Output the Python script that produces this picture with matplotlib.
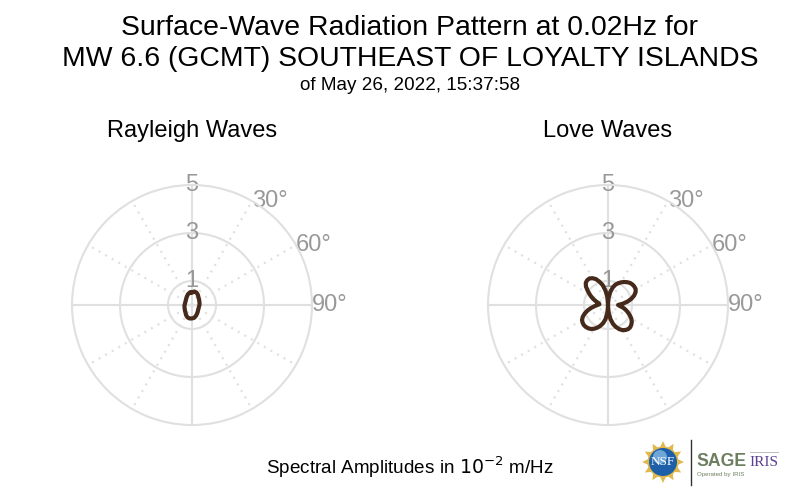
import numpy as np
import matplotlib
matplotlib.use("Agg")
import matplotlib.pyplot as plt
from matplotlib.patches import Circle, Polygon

plt.rcParams['font.family'] = ['Liberation Sans', 'DejaVu Sans']

title_lines = ["Surface-Wave Radiation Pattern at 0.02Hz for",
               "MW 6.6 (GCMT) SOUTHEAST OF LOYALTY ISLANDS"]
subtitle = "of May 26, 2022, 15:37:58"
panel_names = ["Rayleigh Waves", "Love Waves"]
radial_ticks = [1, 3, 5]
angle_labels = [30, 60, 90]
solid_angles = [0, 90, 180, 270]
dotted_angles = [30, 60, 120, 150, 210, 240, 300, 330]

rayleigh_theta = [0, 10, 20, 30, 40, 50, 60, 70, 80, 90, 100, 110, 120, 130, 140, 150, 160, 170, 180,
                  190, 200, 210, 220, 230, 240, 250, 260, 270, 280, 290, 300, 310, 320, 330, 340, 350, 360]
rayleigh_r = [0.53, 0.57, 0.55, 0.49, 0.42, 0.38, 0.35, 0.33, 0.32, 0.31, 0.30, 0.30, 0.31, 0.33, 0.37, 0.42, 0.48, 0.54, 0.56,
              0.57, 0.55, 0.49, 0.42, 0.38, 0.35, 0.33, 0.32, 0.31, 0.30, 0.30, 0.31, 0.33, 0.37, 0.42, 0.48, 0.53, 0.53]

love_theta = [0, 5, 10, 15, 20, 25, 30, 35, 40, 45, 50, 55, 60, 65, 70, 75, 80, 85, 90,
              95, 100, 105, 110, 115, 120, 125, 130, 135, 140, 145, 150, 155, 160, 165, 170, 175, 180,
              185, 190, 195, 200, 205, 210, 215, 220, 225, 230, 235, 240, 245, 250, 255, 260, 265, 270,
              275, 280, 285, 290, 295, 300, 305, 310, 315, 320, 325, 330, 335, 340, 345, 350, 355, 360]
love_r = [0.03, 0.30, 0.55, 0.75, 0.90, 1.00, 1.09, 1.17, 1.24, 1.30, 1.33, 1.34, 1.33, 1.27, 1.16, 1.01, 0.83, 0.62, 0.42,
          0.50, 0.64, 0.76, 0.88, 1.00, 1.12, 1.21, 1.27, 1.31, 1.31, 1.27, 1.21, 1.11, 0.98, 0.82, 0.60, 0.32, 0.05,
          0.32, 0.60, 0.78, 0.92, 1.04, 1.14, 1.22, 1.27, 1.30, 1.31, 1.29, 1.25, 1.16, 1.03, 0.88, 0.72, 0.56, 0.44,
          0.36, 0.38, 0.48, 0.60, 0.74, 0.88, 1.03, 1.20, 1.31, 1.35, 1.35, 1.29, 1.19, 1.03, 0.86, 0.62, 0.35, 0.03]

W, H = 800, 496
GRID = '#e0e0e0'
LABEL = '#999999'
LINE = '#45291a'

fig = plt.figure(figsize=(8, 4.96), dpi=100)


def polar_panel(cx, name, th, r):
    R = 120
    cy = 305
    ax = fig.add_axes([(cx - R) / W, 1 - (cy + R) / H, 2 * R / W, 2 * R / H], projection='polar')
    ax.set_theta_zero_location('N')
    ax.set_theta_direction(-1)
    ax.set_rlim(0, max(radial_ticks))
    ax.set_xticks([])
    ax.set_yticks([])
    ax.grid(False)
    ax.patch.set_alpha(0)
    ax.spines['polar'].set_color(GRID)
    ax.spines['polar'].set_linewidth(1.5)
    for a in solid_angles:
        ax.plot([np.deg2rad(a)] * 2, [0, 5], color=GRID, lw=1.5, zorder=1, clip_on=False)
    for a in dotted_angles:
        ax.plot([np.deg2rad(a)] * 2, [0, 5], color=GRID, lw=1.6, ls=(0, (0.9, 2.5)), zorder=1, clip_on=False)
    circ = np.deg2rad(np.linspace(0, 360, 361))
    for t in radial_ticks[:-1]:
        ax.plot(circ, np.full_like(circ, t), color=GRID, lw=1.5, zorder=1)
    for t in radial_ticks:
        ax.text(0, t, str(t), color=LABEL, fontsize=17, ha='center', va='center', zorder=2, clip_on=False)
    for a in angle_labels:
        ax.text(np.deg2rad(a), 5, f"{a}°", color=LABEL, fontsize=17, ha='left', va='center', zorder=2, clip_on=False)
    ax.plot(np.deg2rad(th), r, color=LINE, lw=3, zorder=3, solid_joinstyle='round')
    fig.text(cx / W, 1 - 131 / H, name, ha='center', va='center', fontsize=17, color='black')


polar_panel(192, panel_names[0], rayleigh_theta, rayleigh_r)
polar_panel(608, panel_names[1], love_theta, love_r)

fig.text(410 / W, 1 - 28 / H, title_lines[0], ha='center', va='center', fontsize=20.45)
fig.text(410 / W, 1 - 59 / H, title_lines[1], ha='center', va='center', fontsize=20.45)
fig.text(410 / W, 1 - 85 / H, subtitle, ha='center', va='center', fontsize=13.6)
fig.text(410 / W, 1 - 467 / H, r"Spectral Amplitudes in $10^{-2}$ m/Hz", ha='center', va='center', fontsize=13.6)

# logo block, laid out in pixel coordinates
lg = fig.add_axes([0, 0, 1, 1])
lg.set_xlim(0, W)
lg.set_ylim(H, 0)
lg.axis('off')
lg.patch.set_alpha(0)
lcx, lcy = 663, 462
for a in np.arange(0, 360, 30):
    t = np.deg2rad(a)
    tip = (lcx + 21 * np.cos(t), lcy + 21 * np.sin(t))
    b1 = (lcx + 14 * np.cos(t + 0.25), lcy + 14 * np.sin(t + 0.25))
    b2 = (lcx + 14 * np.cos(t - 0.25), lcy + 14 * np.sin(t - 0.25))
    lg.add_patch(Polygon([tip, b1, b2], color='#e0b84c', lw=0))
lg.add_patch(Circle((lcx, lcy), 15.5, color='#e0b84c', lw=0))
lg.add_patch(Circle((lcx, lcy), 14, color='#1d5fa8', lw=0))
lg.add_patch(Circle((lcx - 3, lcy - 5), 7, color='#6fa6d8', lw=0))
lg.text(lcx, lcy, "NSF", color='white', fontsize=9.5, family='Liberation Serif', ha='center', va='center')
lg.plot([691, 691], [440, 485], color='#333333', lw=1)
lg.text(696.5, 461, "SAGE", color='#6d7f60', fontsize=12.7, fontweight='bold', ha='left', va='center')
lg.text(697, 474.5, "Operated by IRIS", color='#6d7f60', fontsize=4.45, ha='left', va='center')
lg.text(749, 463, "IRIS", color='#5b3f94', fontsize=11, family='Liberation Serif', ha='left', va='center')
lg.plot([750, 778], [452, 452], color='#bbbbbb', lw=0.7)

fig.savefig("out.png", dpi=100)
